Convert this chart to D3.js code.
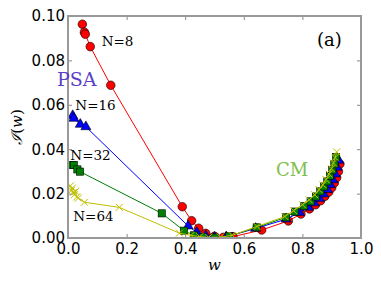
<!DOCTYPE html>
<html>
<meta charset="utf-8">
<title>I(w)</title>
<style>
  body { margin: 0; background: #fff; }
  text { fill: #000; }
  .tick text { font-family: "DejaVu Sans", sans-serif; font-size: 15px; }
  .lbl { font-family: "DejaVu Serif", serif; }
</style>
<body>
<div id="chart"></div>
<script src="https://d3js.org/d3.v7.min.js"></script>
<script>
// N=8
const w8 = [0.049,0.056,0.059,0.076,0.146,0.390,0.422,0.446,0.470,0.500,0.530,0.563,0.661,0.752,0.795,0.824,0.845,0.862,0.877,0.890,0.900,0.909,0.917,0.923,0.928];
const i8 = [0.0963,0.0927,0.0918,0.0862,0.0688,0.0141,0.0078,0.0044,0.0021,0.0008,0.0003,0.0006,0.0036,0.0077,0.0108,0.0131,0.0150,0.0168,0.0188,0.0207,0.0226,0.0248,0.0272,0.0300,0.0333];
// N=16
const w16 = [0.016,0.020,0.042,0.061,0.410,0.440,0.470,0.500,0.540,0.640,0.745,0.790,0.820,0.840,0.858,0.872,0.885,0.895,0.904,0.912,0.918,0.924];
const i16 = [0.0551,0.0539,0.0512,0.0501,0.0054,0.0025,0.0010,0.0003,0.0005,0.0043,0.0085,0.0115,0.0138,0.0158,0.0178,0.0198,0.0218,0.0240,0.0262,0.0288,0.0318,0.0350];
// N=32
const w32 = [0.013,0.020,0.032,0.041,0.320,0.396,0.430,0.460,0.500,0.550,0.644,0.744,0.775,0.806,0.828,0.846,0.861,0.874,0.885,0.894,0.902,0.909,0.915];
const i32 = [0.0329,0.0329,0.0309,0.0299,0.0111,0.0033,0.0012,0.0005,0.0002,0.0008,0.0048,0.0093,0.0119,0.0144,0.0165,0.0187,0.0210,0.0232,0.0255,0.0280,0.0305,0.0332,0.0365];
// N=64
const w64 = [0.008,0.012,0.015,0.018,0.022,0.026,0.030,0.035,0.056,0.175,0.380,0.420,0.450,0.480,0.520,0.560,0.645,0.740,0.770,0.800,0.823,0.842,0.857,0.870,0.881,0.891,0.899,0.906,0.912,0.917];
const i64 = [0.0235,0.0215,0.0225,0.0205,0.0195,0.0210,0.0185,0.0180,0.0161,0.0138,0.0022,0.0012,0.0006,0.0003,0.0004,0.0012,0.0052,0.0097,0.0123,0.0150,0.0172,0.0195,0.0218,0.0240,0.0263,0.0288,0.0312,0.0338,0.0362,0.0388];

const xTicks = [0.0,0.2,0.4,0.6,0.8,1.0];
const yTicks = [0.00,0.02,0.04,0.06,0.08,0.10];

const series = [
  {name: 'N=8',  w: w8,  v: i8,  color: '#ff0000', marker: 'circle'},
  {name: 'N=16', w: w16, v: i16, color: '#0000ff', marker: 'triangle'},
  {name: 'N=32', w: w32, v: i32, color: '#008000', marker: 'square'},
  {name: 'N=64', w: w64, v: i64, color: '#bfbf00', marker: 'cross'}
];

const margin = {top: 16, right: 20, bottom: 48, left: 68};
const width = 381 - margin.left - margin.right;
const height = 286 - margin.top - margin.bottom;

const svg = d3.select('#chart').append('svg')
  .attr('width', 381).attr('height', 286);
const g = svg.append('g').attr('transform', `translate(${margin.left},${margin.top})`);

const x = d3.scaleLinear().domain([0, 1]).range([0, width]);
const y = d3.scaleLinear().domain([0, 0.1]).range([height, 0]);

g.append('clipPath').attr('id', 'clip')
  .append('rect').attr('width', width).attr('height', height);

const plot = g.append('g').attr('clip-path', 'url(#clip)');
const line = d3.line().x(d => x(d[0])).y(d => y(d[1]));

series.forEach(s => {
  const pts = s.w.map((w, i) => [w, s.v[i]]);
  plot.append('path').datum(pts)
    .attr('d', line).attr('fill', 'none')
    .attr('stroke', s.color).attr('stroke-width', 1);
  const m = plot.append('g').selectAll('g').data(pts).enter().append('g')
    .attr('transform', d => `translate(${x(d[0])},${y(d[1])})`);
  if (s.marker === 'circle') {
    m.append('circle').attr('r', 4.3).attr('fill', s.color).attr('stroke', '#000').attr('stroke-width', 0.6);
  } else if (s.marker === 'triangle') {
    m.append('path').attr('d', d3.symbol(d3.symbolTriangle, 44)).attr('fill', s.color).attr('stroke', '#000').attr('stroke-width', 0.6);
  } else if (s.marker === 'square') {
    m.append('rect').attr('x', -3.6).attr('y', -3.6).attr('width', 7.2).attr('height', 7.2)
      .attr('fill', s.color).attr('stroke', '#000').attr('stroke-width', 0.6);
  } else {
    m.append('path').attr('d', 'M-3.5,-3.5L3.5,3.5M-3.5,3.5L3.5,-3.5')
      .attr('stroke', s.color).attr('stroke-width', 1);
  }
});

// axes with inward ticks on all sides
const xAx = g.append('g').attr('transform', `translate(0,${height})`)
  .call(d3.axisBottom(x).tickValues(xTicks).tickFormat(d3.format('.1f')).tickSize(-4).tickPadding(5));
const xTop = g.append('g').call(d3.axisTop(x).tickValues(xTicks).tickFormat('').tickSize(-4));
const yAx = g.append('g')
  .call(d3.axisLeft(y).tickValues(yTicks).tickFormat(d3.format('.2f')).tickSize(-4).tickPadding(3));
const yRight = g.append('g').attr('transform', `translate(${width},0)`)
  .call(d3.axisRight(y).tickValues(yTicks).tickFormat('').tickSize(-4));
[xAx, xTop, yAx, yRight].forEach(a => {
  a.select('.domain').remove();
  a.selectAll('.tick line').attr('stroke', '#888');
});

g.append('rect').attr('width', width).attr('height', height)
  .attr('fill', 'none').attr('stroke', '#999').attr('stroke-width', 2);

// labels
const labels = [
  {t: 'N=8',  w: 0.115, v: 0.0887},
  {t: 'N=16', w: 0.025, v: 0.0599},
  {t: 'N=32', w: 0.008, v: 0.0374},
  {t: 'N=64', w: 0.018, v: 0.0100}
];
labels.forEach(l => {
  g.append('text').attr('class', 'lbl').attr('x', x(l.w)).attr('y', y(l.v))
    .attr('dy', '0.35em').style('font-size', '13.5px').text(l.t);
});

g.append('text').attr('class', 'lbl').attr('x', -11).attr('y', y(0.0713))
  .attr('dy', '0.35em').style('font-size', '19px').style('fill', '#5b3fc9').text('PSA');
g.append('text').attr('class', 'lbl').attr('x', x(0.71)).attr('y', y(0.0309))
  .attr('dy', '0.35em').style('font-size', '18px').style('fill', '#7ec04a').text('CM');
g.append('text').attr('class', 'lbl').attr('x', x(0.85)).attr('y', y(0.0895))
  .attr('dy', '0.35em').style('font-size', '18px').text('(a)');

svg.append('text').attr('class', 'lbl').attr('x', margin.left + width / 2).attr('y', 270)
  .attr('text-anchor', 'middle').style('font-size', '15px').style('font-style', 'italic').text('w');
svg.append('text').attr('class', 'lbl')
  .attr('transform', `translate(22,${margin.top + height / 2}) rotate(-90)`)
  .attr('text-anchor', 'middle').style('font-size', '15px')
  .html('<tspan style="font-style:italic">ℐ</tspan>(<tspan style="font-style:italic">w</tspan>)');
</script>
</body>
</html>
